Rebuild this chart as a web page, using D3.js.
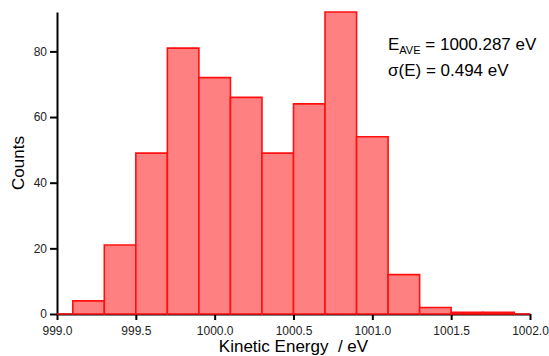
<!DOCTYPE html>
<html lang="en">
<head>
  <meta charset="UTF-8">
  <title>Kinetic energy histogram</title>
  <script src="https://cdn.jsdelivr.net/npm/d3@7/dist/d3.min.js"></script>
  <style>
    body { margin: 0; background: #fff; }
    svg { font-family: "Liberation Sans", Arial, sans-serif; display: block; }
    .tick text { fill: #222; font-size: 12px; }
  </style>
</head>
<body>
  <svg width="549" height="356"></svg>
<script>
  // histogram bins (centre, eV) and counts
  const binCenters = [999.0, 999.2, 999.4, 999.6, 999.8, 1000.0, 1000.2, 1000.4,
    1000.6, 1000.8, 1001.0, 1001.2, 1001.4, 1001.6, 1001.8, 1002.0];
  const counts = [0, 4, 21, 49, 81, 72, 66, 49, 64, 92, 54, 12, 2, 0.5, 0.5, 0];
  const binWidth = 0.2;

  const xTicks = [999.0, 999.5, 1000.0, 1000.5, 1001.0, 1001.5, 1002.0];
  const yTicks = [0, 20, 40, 60, 80];

  const svg = d3.select("svg");
  const width = +svg.attr("width");
  const height = +svg.attr("height");
  const margin = { top: 12, right: 19, bottom: 42, left: 57 };
  const innerWidth = width - margin.left - margin.right;
  const innerHeight = height - margin.top - margin.bottom;

  const g = svg.append("g")
    .attr("transform", `translate(${margin.left},${margin.top})`);

  const x = d3.scaleLinear().domain([999.0, 1002.0]).range([0, innerWidth]);
  const y = d3.scaleLinear().domain([0, 92]).range([innerHeight, 0]);

  // axes
  const xAxis = g.append("g")
    .attr("transform", `translate(0,${innerHeight})`)
    .call(d3.axisBottom(x).tickValues(xTicks).tickFormat(d3.format(".1f"))
      .tickSize(6).tickSizeOuter(0).tickPadding(6));

  const yAxis = g.append("g")
    .call(d3.axisLeft(y).tickValues(yTicks).tickSize(7).tickSizeOuter(0).tickPadding(3));

  [xAxis, yAxis].forEach(a => {
    a.select(".domain").attr("stroke", "#000").attr("stroke-width", 2);
    a.selectAll(".tick line").attr("stroke", "#000").attr("stroke-width", 2);
    a.selectAll(".tick text").style("font-size", "12px");
  });

  // bars (drawn as paths so empty bins still show their outline)
  g.append("clipPath").attr("id", "plotclip")
    .append("rect").attr("x", 0).attr("y", -5).attr("width", innerWidth).attr("height", innerHeight + 10);

  const bins = binCenters.map((c, i) => ({ c, n: counts[i] }));
  g.append("g")
    .attr("clip-path", "url(#plotclip)")
    .selectAll("path")
    .data(bins)
    .join("path")
    .attr("d", d => {
      const x0 = x(d.c - binWidth / 2), x1 = x(d.c + binWidth / 2);
      const y0 = y(0), y1 = y(d.n);
      return `M${x0},${y0}V${y1}H${x1}V${y0}Z`;
    })
    .attr("fill", "#ff8080")
    .attr("stroke", "#ff1010")
    .attr("stroke-width", 1.6);

  // axis titles
  svg.append("text")
    .attr("x", margin.left + innerWidth / 2)
    .attr("y", 352)
    .attr("text-anchor", "middle")
    .style("font-size", "17px")
    .style("white-space", "pre")
    .text("Kinetic Energy  / eV");

  svg.append("text")
    .attr("transform", `translate(24,${margin.top + innerHeight / 2}) rotate(-90)`)
    .attr("text-anchor", "middle")
    .style("font-size", "17px")
    .text("Counts");

  // annotation
  const note = svg.append("text")
    .attr("x", 388)
    .attr("y", 50)
    .style("font-size", "17px");
  note.append("tspan").text("E");
  note.append("tspan").attr("dy", 4).style("font-size", "11px").text("AVE");
  note.append("tspan").attr("dy", -4).text(" = 1000.287 eV");

  svg.append("text")
    .attr("x", 388)
    .attr("y", 76)
    .style("font-size", "17px")
    .text("σ(E) = 0.494 eV");
</script>
</body>
</html>
